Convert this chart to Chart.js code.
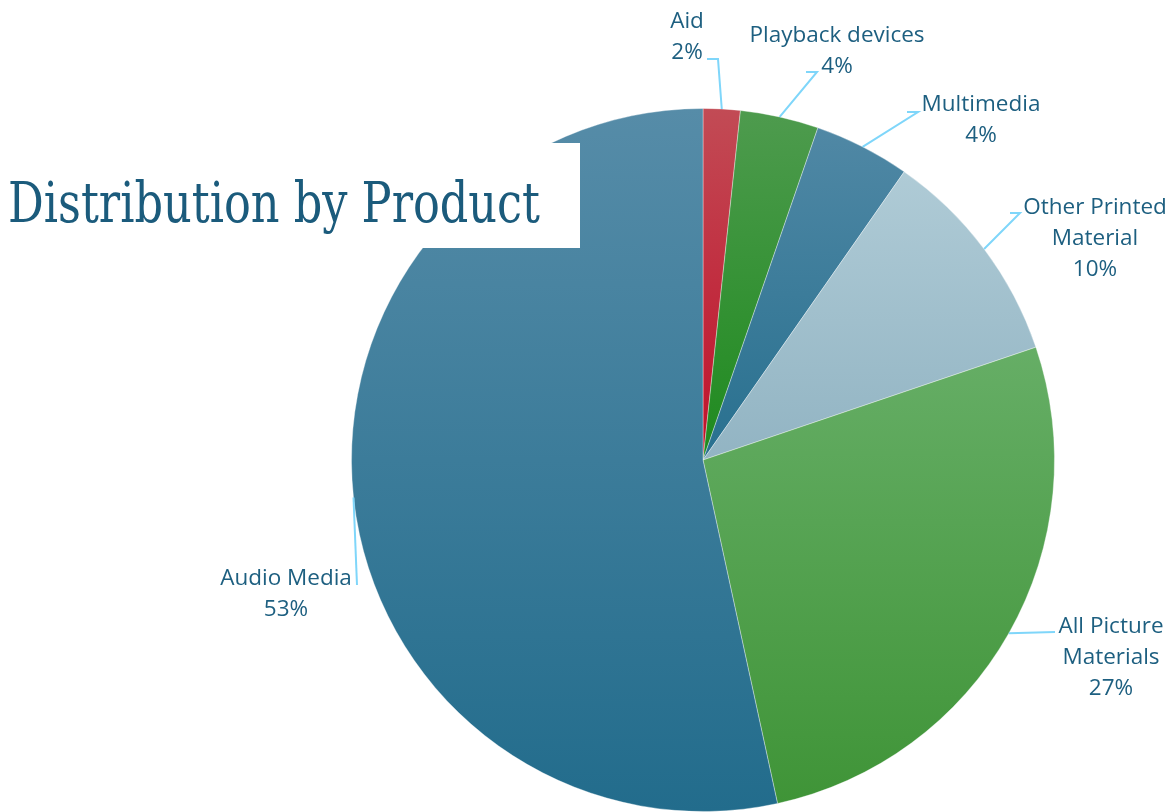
<!DOCTYPE html>
<html>
<head>
<meta charset="utf-8">
<script src="https://cdn.jsdelivr.net/npm/chart.js@4.4.0/dist/chart.umd.min.js"></script>
<style>
  html, body { margin: 0; padding: 0; background: #fff; }
  #wrap { width: 1169px; height: 812px; position: relative; }
</style>
</head>
<body>
<div id="wrap"><canvas id="chart"></canvas></div>
<script>
// data
const categories = ['Aid', 'Playback devices', 'Multimedia', 'Other Printed Material', 'All Picture Materials', 'Audio Media'];
const shares = [1.7, 3.6, 4.4, 10.1, 26.8, 53.4];
const titleText = 'Distribution by Product';

// slice gradient colours, top -> bottom
const topColors = ['#c24b55', '#4e9b4e', '#5088a5', '#afcbd6', '#66ae66', '#568ca8'];
const bottomColors = ['#c0102a', '#1e8a1e', '#28708f', '#92b4c3', '#3f9437', '#226c8c'];

// label placement (text centre x, first line y, wrap width, leader line bends)
const labelLayout = [
    { x: 687, y: 21.5, wrap: 220, bends: [[718, 59], [707, 59]] },
    { x: 837, y: 35.5, wrap: 220, bends: [[817, 72], [806, 72]] },
    { x: 981, y: 104.5, wrap: 220, bends: [[918, 112], [907, 112]] },
    { x: 1095, y: 207.5, wrap: 170, bends: [[1020, 213], [1010, 213]] },
    { x: 1111, y: 626.5, wrap: 130, bends: [[1055, 632]] },
    { x: 286, y: 578.5, wrap: 220, bends: [[357, 585]] }
];

const textColor = '#1d5f80';
const leaderColor = '#7fd6fa';
const labelFont = '22.5px "Open Sans", "Noto Sans", sans-serif';

function sliceGradient(context) {
    const chart = context.chart;
    const i = context.dataIndex;
    const area = chart.chartArea;
    if (!area) return bottomColors[i];
    const cx = (area.left + area.right) / 2;
    const cy = (area.top + area.bottom) / 2;
    const r = Math.min(area.right - area.left, area.bottom - area.top) / 2;
    const total = shares.reduce((a, b) => a + b, 0);
    let before = 0;
    for (let k = 0; k < i; k++) before += shares[k];
    const a0 = -Math.PI / 2 + before / total * 2 * Math.PI;
    const a1 = a0 + shares[i] / total * 2 * Math.PI;
    const ys = [cy, cy + r * Math.sin(a0), cy + r * Math.sin(a1)];
    if (a0 <= Math.PI / 2 && a1 >= Math.PI / 2) ys.push(cy + r);
    if (a0 <= -Math.PI / 2 + 1e-9 || a1 >= 1.5 * Math.PI - 1e-9) ys.push(cy - r);
    const yTop = Math.min(...ys), yBot = Math.max(...ys);
    const g = chart.ctx.createLinearGradient(0, yTop, 0, yBot);
    g.addColorStop(0, topColors[i]);
    g.addColorStop(1, bottomColors[i]);
    return g;
}

function wrapText(ctx, text, width) {
    const words = text.split(' ');
    const lines = [];
    let cur = '';
    words.forEach(w => {
        const test = cur ? cur + ' ' + w : w;
        if (cur && ctx.measureText(test).width > width) {
            lines.push(cur);
            cur = w;
        } else {
            cur = test;
        }
    });
    if (cur) lines.push(cur);
    return lines;
}

const overlay = {
    id: 'overlay',
    afterDraw(chart) {
        const ctx = chart.ctx;
        const arcs = chart.getDatasetMeta(0).data;
        const total = shares.reduce((a, b) => a + b, 0);
        ctx.save();

        // leader lines + labels
        arcs.forEach((arc, i) => {
            const lay = labelLayout[i];
            const mid = (arc.startAngle + arc.endAngle) / 2;
            const px = arc.x + arc.outerRadius * Math.cos(mid);
            const py = arc.y + arc.outerRadius * Math.sin(mid);
            ctx.strokeStyle = leaderColor;
            ctx.lineWidth = 2;
            ctx.beginPath();
            ctx.moveTo(px, py);
            lay.bends.forEach(b => ctx.lineTo(b[0], b[1]));
            ctx.stroke();

            ctx.font = labelFont;
            ctx.fillStyle = textColor;
            ctx.textAlign = 'center';
            ctx.textBaseline = 'middle';
            const lines = wrapText(ctx, categories[i], lay.wrap);
            lines.push(Math.round(shares[i] / total * 100) + '%');
            lines.forEach((t, k) => ctx.fillText(t, lay.x, lay.y + k * 31));
        });

        // title box sitting over the pie
        ctx.fillStyle = '#ffffff';
        ctx.fillRect(0, 143, 580, 105);
        ctx.fillStyle = '#1b5b7c';
        ctx.font = '56px "DejaVu Serif", serif';
        ctx.textAlign = 'left';
        ctx.textBaseline = 'alphabetic';
        ctx.fillText(titleText, 8, 222, 532);
        ctx.restore();
    }
};

new Chart(document.getElementById('chart'), {
    type: 'pie',
    data: {
        labels: categories,
        datasets: [{
            data: shares,
            backgroundColor: sliceGradient,
            borderColor: 'rgba(255,255,255,0.35)',
            borderWidth: 1
        }]
    },
    options: {
        responsive: true,
        maintainAspectRatio: false,
        animation: false,
        layout: { padding: { left: 351, right: 114, top: 108, bottom: 0 } },
        plugins: {
            legend: { display: false },
            title: { display: false },
            tooltip: { enabled: false }
        }
    },
    plugins: [overlay]
});
</script>
</body>
</html>
